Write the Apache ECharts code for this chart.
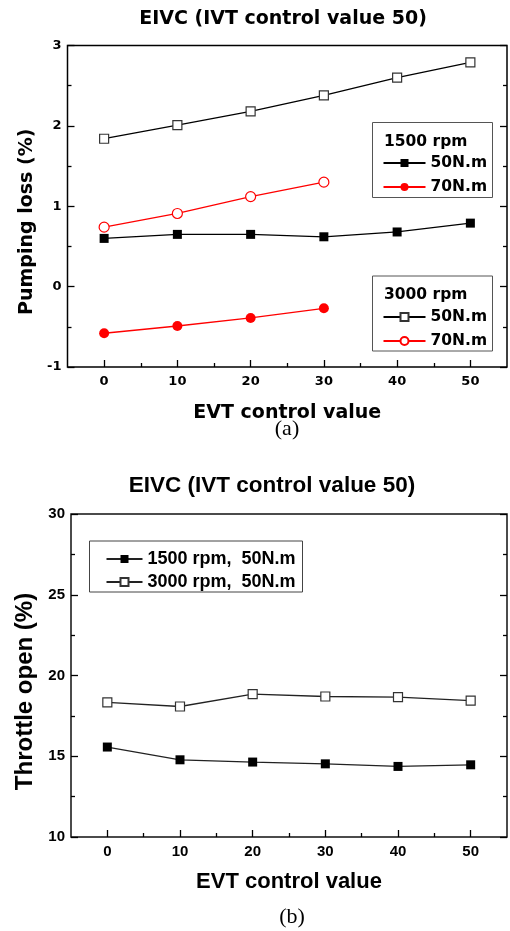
<!DOCTYPE html>
<html>
<head>
<meta charset="utf-8">
<script src="https://cdn.jsdelivr.net/npm/echarts@6/dist/echarts.min.js"></script>
<style>
html,body{margin:0;padding:0;background:#fff;}
#c{width:510px;height:931px;}
</style>
</head>
<body>
<div id="c"></div>
<script>
// ---------- data ----------
var evt = [0, 10, 20, 30, 40, 50];
var evtShort = [0, 10, 20, 30];
var xTicks = [0, 10, 20, 30, 40, 50];
var xMinorTicks = [5, 15, 25, 35, 45];

// (a) Pumping loss (%)
var pump1500_50 = [0.60, 0.65, 0.65, 0.62, 0.68, 0.79];
var pump1500_70 = [-0.58, -0.49, -0.39, -0.27];
var pump3000_50 = [1.84, 2.01, 2.18, 2.38, 2.60, 2.79];
var pump3000_70 = [0.74, 0.91, 1.12, 1.30];

// (b) Throttle open (%)
var thr1500_50 = [15.57, 14.78, 14.64, 14.53, 14.37, 14.47];
var thr3000_50 = [18.33, 18.08, 18.85, 18.70, 18.66, 18.45];

var titleText = 'EIVC (IVT control value 50)';
var xName = 'EVT control value';
var yNameA = 'Pumping loss (%)';
var yNameB = 'Throttle open (%)';

function pairs(xs, ys) { return ys.map(function (v, i) { return [xs[i], v]; }); }

var FA = 'DejaVu Sans';
var FB = 'Liberation Sans';

var chart = echarts.init(document.getElementById('c'), null, {renderer: 'canvas'});

function xMajor(gi, font, fs, margin) {
  return {
    gridIndex: gi, type: 'value', min: -5, max: 55, position: 'bottom',
    axisLine: {show: false, onZero: false},
    axisTick: {show: true, inside: true, length: 7, customValues: xTicks, lineStyle: {color: '#000', width: 1.3}},
    axisLabel: {show: true, customValues: xTicks, margin: margin, color: '#000', fontFamily: font, fontWeight: 'bold', fontSize: fs},
    splitLine: {show: false}
  };
}
function xMinor(gi) {
  return {
    gridIndex: gi, type: 'value', min: -5, max: 55, position: 'bottom',
    axisLine: {show: false, onZero: false},
    axisTick: {show: true, inside: true, length: 4, customValues: xMinorTicks, lineStyle: {color: '#000', width: 1.3}},
    axisLabel: {show: false},
    splitLine: {show: false}
  };
}
function yAx(gi, pos, min, max, itv, showLabel, font, fs) {
  return {
    gridIndex: gi, type: 'value', position: pos, min: min, max: max, interval: itv,
    axisLine: {show: false, onZero: false},
    axisTick: {show: true, inside: true, length: 7, lineStyle: {color: '#000', width: 1.3}},
    minorTick: {show: true, splitNumber: 2, length: 4, lineStyle: {color: '#000', width: 1.3}},
    axisLabel: {show: showLabel, margin: 6, color: '#000', fontFamily: font, fontWeight: 'bold', fontSize: fs},
    splitLine: {show: false}, minorSplitLine: {show: false}
  };
}

var yA = yAx(0, 'left', -1, 3, 1, true, FA, 13);
yA.name = yNameA; yA.nameLocation = 'middle'; yA.nameGap = 31; yA.nameRotate = 90;
yA.nameTextStyle = {fontFamily: FA, fontWeight: 'bold', fontSize: 19, color: '#000', padding: [0, 31, 0, 0]};
var yB = yAx(1, 'left', 10, 30, 5, true, FB, 15);
yB.name = yNameB; yB.nameLocation = 'middle'; yB.nameGap = 29; yB.nameRotate = 90;
yB.nameTextStyle = {fontFamily: FB, fontWeight: 'bold', fontSize: 24, color: '#000', padding: [0, 32, 0, 0]};

var xA = xMajor(0, FA, 13, 8);
xA.name = xName; xA.nameLocation = 'middle'; xA.nameGap = 37;
xA.nameTextStyle = {fontFamily: FA, fontWeight: 'bold', fontSize: 19, color: '#000'};
var xB = xMajor(1, FB, 15, 7);
xB.name = xName; xB.nameLocation = 'middle'; xB.nameGap = 34;
xB.nameTextStyle = {fontFamily: FB, fontWeight: 'bold', fontSize: 22, color: '#000'};

function legendName(n) { return n.replace(/^\d+ rpm /, ''); }

var option = {
  backgroundColor: '#fff',
  animation: false,
  grid: [
    {left: 67.5, top: 45.5, width: 439.5, height: 321.5, show: true, borderColor: '#000', borderWidth: 1.5, backgroundColor: 'transparent'},
    {left: 71, top: 514, width: 436, height: 323, show: true, borderColor: '#111', borderWidth: 1.5, backgroundColor: 'transparent'}
  ],
  xAxis: [xA, xMinor(0), xB, xMinor(1)],
  yAxis: [
    yA,
    yAx(0, 'right', -1, 3, 1, false, FA, 13),
    yB,
    yAx(1, 'right', 10, 30, 5, false, FB, 15)
  ],
  legend: [
    {
      data: ['1500 rpm 50N.m', '1500 rpm 70N.m'], orient: 'vertical', left: 382.5, top: 153, padding: 0,
      itemWidth: 42, itemHeight: 10, itemGap: 4, formatter: legendName,
      textStyle: {fontFamily: FA, fontWeight: 'bold', fontSize: 15.5, color: '#000', lineHeight: 20}
    },
    {
      data: ['3000 rpm 50N.m', '3000 rpm 70N.m'], orient: 'vertical', left: 382.5, top: 307, padding: 0,
      itemWidth: 42, itemHeight: 10, itemGap: 4, formatter: legendName,
      textStyle: {fontFamily: FA, fontWeight: 'bold', fontSize: 15.5, color: '#000', lineHeight: 20}
    },
    {
      data: ['1500 rpm,  50N.m', '3000 rpm,  50N.m'], orient: 'vertical', left: 105.5, top: 549, padding: 0,
      itemWidth: 36, itemHeight: 10, itemGap: 3,
      textStyle: {fontFamily: FB, fontWeight: 'bold', fontSize: 18, color: '#000', lineHeight: 20}
    }
  ],
  series: [
    {
      name: '1500 rpm 50N.m', type: 'line', xAxisIndex: 0, yAxisIndex: 0,
      data: pairs(evt, pump1500_50), symbol: 'rect', symbolSize: 9,
      itemStyle: {color: '#000'}, lineStyle: {color: '#000', width: 1.3}
    },
    {
      name: '1500 rpm 70N.m', type: 'line', xAxisIndex: 0, yAxisIndex: 0,
      data: pairs(evtShort, pump1500_70), symbol: 'circle', symbolSize: 10,
      itemStyle: {color: '#ff0000'}, lineStyle: {color: '#ff0000', width: 1.3}
    },
    {
      name: '3000 rpm 50N.m', type: 'line', xAxisIndex: 0, yAxisIndex: 0,
      data: pairs(evt, pump3000_50), symbol: 'rect', symbolSize: 9,
      itemStyle: {color: '#fff', borderColor: '#333', borderWidth: 1.2}, lineStyle: {color: '#000', width: 1.3}
    },
    {
      name: '3000 rpm 70N.m', type: 'line', xAxisIndex: 0, yAxisIndex: 0,
      data: pairs(evtShort, pump3000_70), symbol: 'circle', symbolSize: 10,
      itemStyle: {color: '#fff', borderColor: '#ff0000', borderWidth: 1.2}, lineStyle: {color: '#ff0000', width: 1.3}
    },
    {
      name: '1500 rpm,  50N.m', type: 'line', xAxisIndex: 2, yAxisIndex: 2,
      data: pairs(evt, thr1500_50), symbol: 'rect', symbolSize: 9,
      itemStyle: {color: '#000'}, lineStyle: {color: '#222', width: 1.3}
    },
    {
      name: '3000 rpm,  50N.m', type: 'line', xAxisIndex: 2, yAxisIndex: 2,
      data: pairs(evt, thr3000_50), symbol: 'rect', symbolSize: 9,
      itemStyle: {color: '#fff', borderColor: '#333', borderWidth: 1.2}, lineStyle: {color: '#222', width: 1.3}
    }
  ],
  graphic: [
    {type: 'text', z: 10, style: {text: titleText, x: 283, y: 19, align: 'center', verticalAlign: 'middle', textAlign: 'center', textVerticalAlign: 'middle', fill: '#000', font: 'bold 19px "DejaVu Sans"'}},
    {type: 'text', z: 10, style: {text: titleText, x: 272, y: 486, align: 'center', verticalAlign: 'middle', textAlign: 'center', textVerticalAlign: 'middle', fill: '#000', font: 'bold 22.5px "Liberation Sans"'}},
    {type: 'text', z: 10, style: {text: '(a)', x: 287, y: 429, align: 'center', verticalAlign: 'middle', textAlign: 'center', textVerticalAlign: 'middle', fill: '#000', font: '22px "Liberation Serif"'}},
    {type: 'text', z: 10, style: {text: '(b)', x: 292, y: 917, align: 'center', verticalAlign: 'middle', textAlign: 'center', textVerticalAlign: 'middle', fill: '#000', font: '22px "Liberation Serif"'}},
    {type: 'rect', z: 5, shape: {x: 372.5, y: 122.5, width: 120, height: 75}, style: {fill: 'transparent', stroke: '#555', lineWidth: 1}},
    {type: 'rect', z: 5, shape: {x: 372.5, y: 276, width: 120, height: 75}, style: {fill: 'transparent', stroke: '#555', lineWidth: 1}},
    {type: 'rect', z: 5, shape: {x: 89.5, y: 541, width: 213, height: 51}, style: {fill: 'transparent', stroke: '#444', lineWidth: 1}},
    {type: 'text', z: 10, style: {text: '1500 rpm', x: 384, y: 142, align: 'left', verticalAlign: 'middle', textAlign: 'left', textVerticalAlign: 'middle', fill: '#000', font: 'bold 15.5px "DejaVu Sans"'}},
    {type: 'text', z: 10, style: {text: '3000 rpm', x: 384, y: 294.5, align: 'left', verticalAlign: 'middle', textAlign: 'left', textVerticalAlign: 'middle', fill: '#000', font: 'bold 15.5px "DejaVu Sans"'}}
  ]
};
chart.setOption(option);
</script>
</body>
</html>
